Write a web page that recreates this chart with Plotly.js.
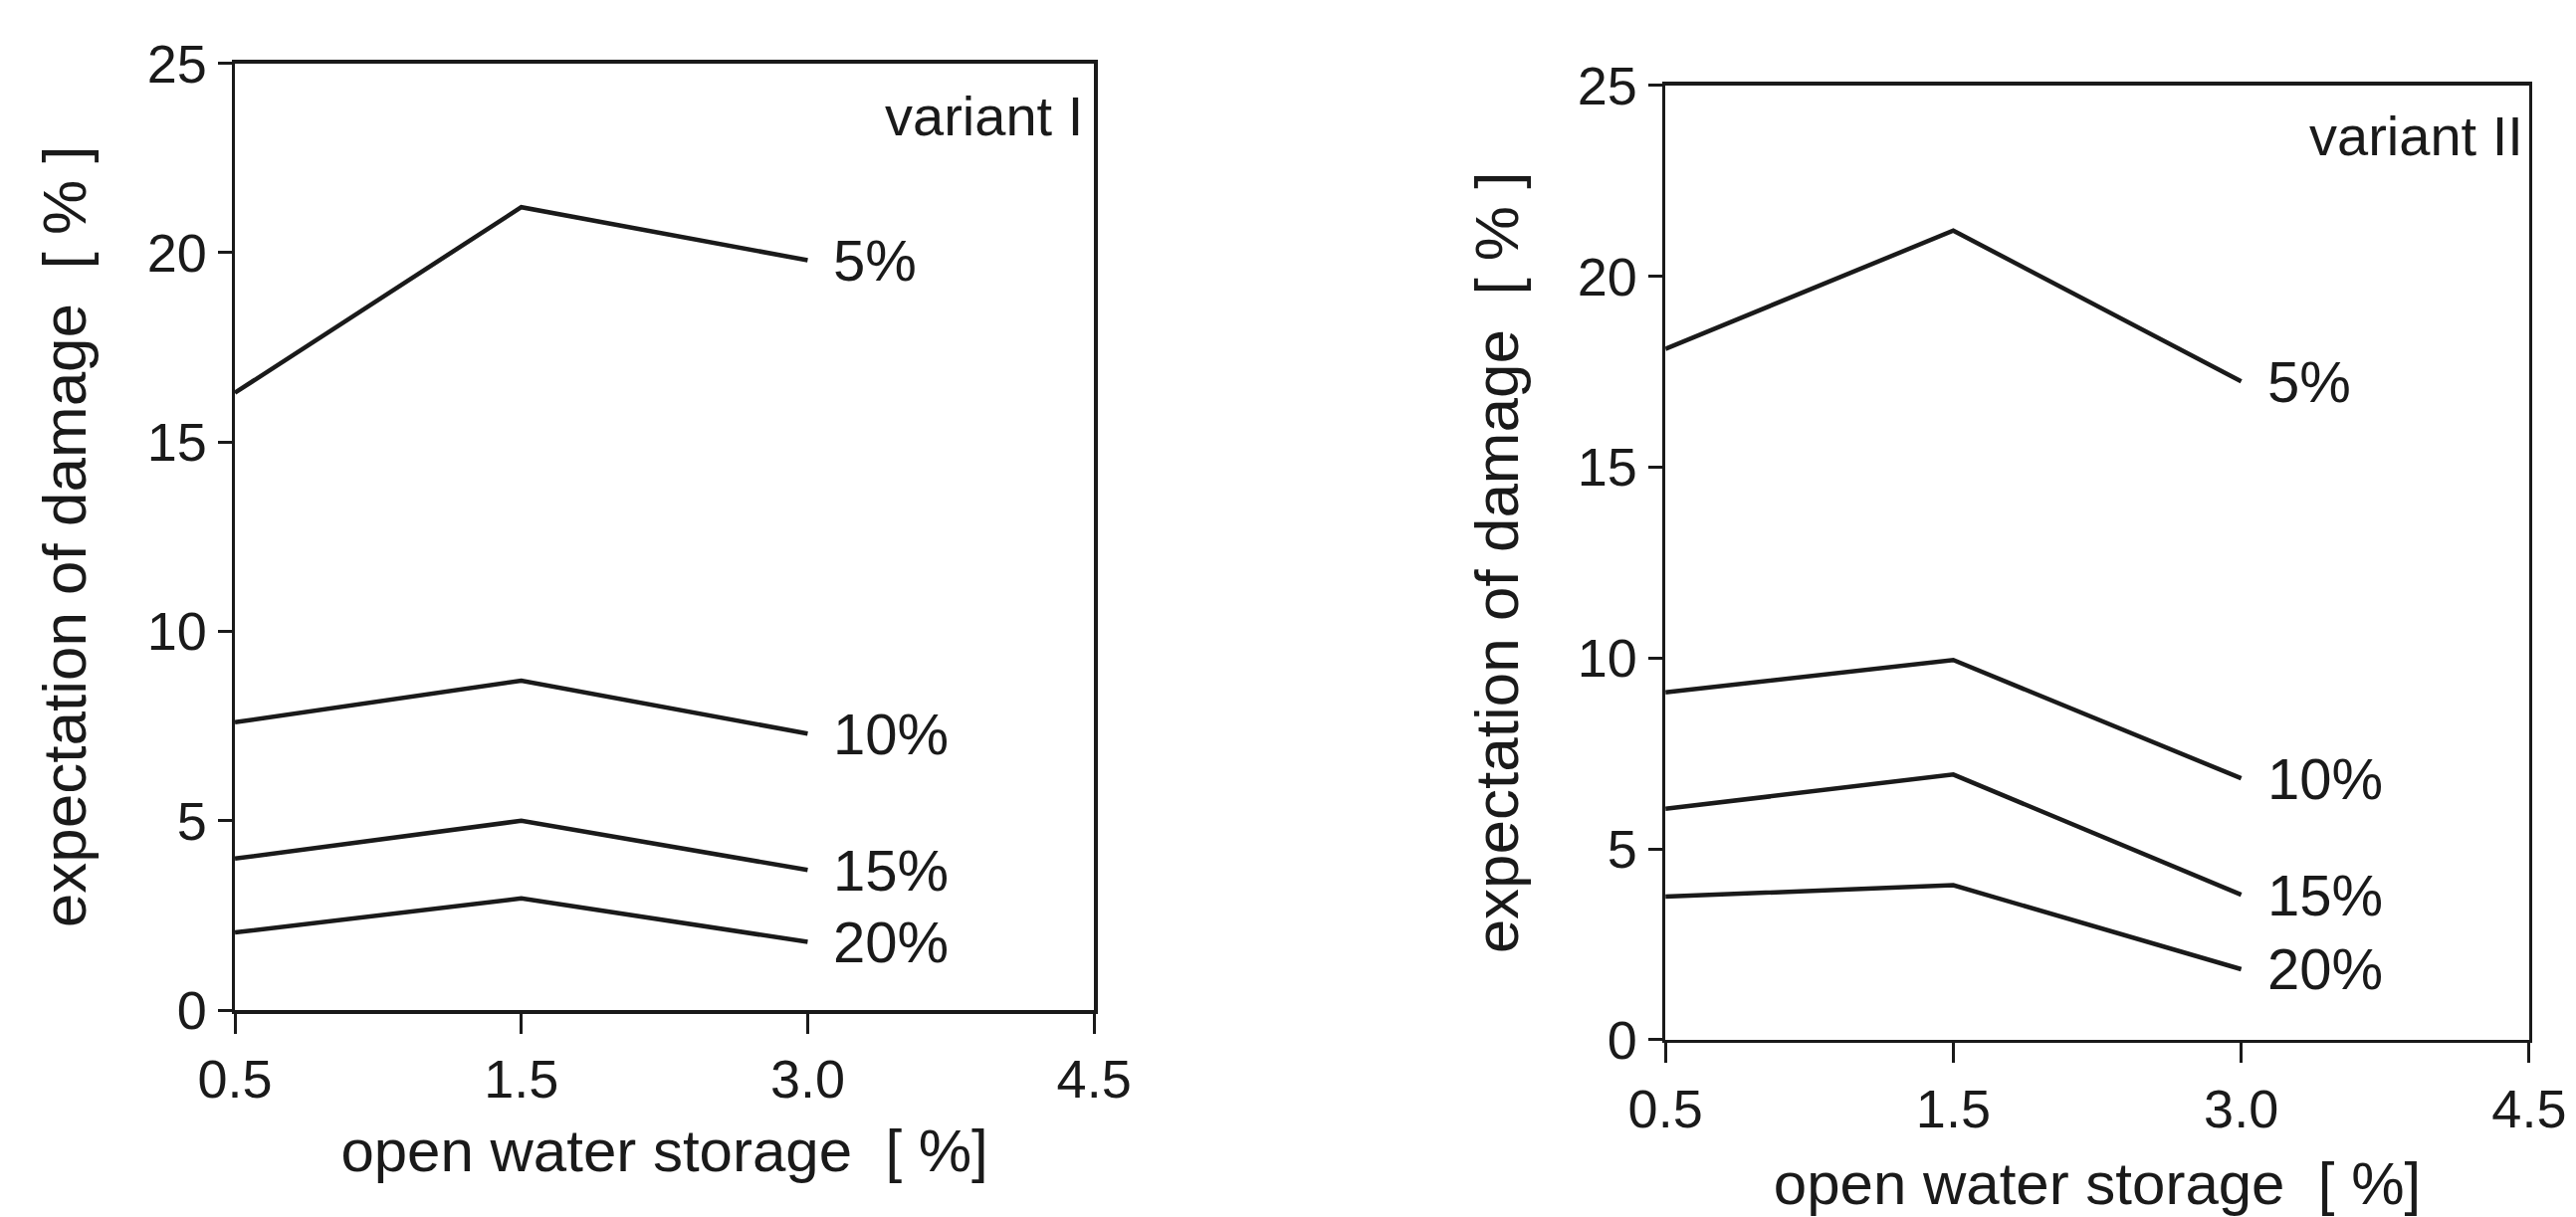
<!DOCTYPE html>
<html>
<head>
<meta charset="utf-8">
<script src="https://cdn.plot.ly/plotly-3.0.1.min.js"></script>
<style>html,body{margin:0;padding:0;background:#fff;}#chart{width:2588px;height:1223px;}</style>
</head>
<body>
<div id="chart"></div>
<script>
// categories on the x axis (open water storage, %)
const xCategories = ['0.5', '1.5', '3.0', '4.5'];
const xData = ['0.5', '1.5', '3.0'];
const seriesLabels = ['5%', '10%', '15%', '20%'];

// variant I – expectation of damage (%)
const variantI_5 = [16.3, 21.2, 19.8];
const variantI_10 = [7.6, 8.7, 7.3];
const variantI_15 = [4.0, 5.0, 3.7];
const variantI_20 = [2.05, 2.95, 1.8];

// variant II – expectation of damage (%)
const variantII_5 = [18.1, 21.2, 17.25];
const variantII_10 = [9.1, 9.95, 6.85];
const variantII_15 = [6.05, 6.95, 3.8];
const variantII_20 = [3.75, 4.05, 1.85];

const yTicks = [0, 5, 10, 15, 20, 25];

const FONT = 'Liberation Sans, Arial, Helvetica, sans-serif';
const INK = '#1a1a1a';

const panels = [
  {xa: 'x', ya: 'y', series: [variantI_5, variantI_10, variantI_15, variantI_20], name: 'variant I', nx: 0.99, ny: 0.944},
  {xa: 'x2', ya: 'y2', series: [variantII_5, variantII_10, variantII_15, variantII_20], name: 'variant II', nx: 0.995, ny: 0.947}
];

const traces = [];
const annotations = [];
panels.forEach(p => {
  p.series.forEach((vals, i) => {
    traces.push({
      type: 'scatter', mode: 'lines', x: xData, y: vals,
      xaxis: p.xa, yaxis: p.ya,
      line: {color: INK, width: 4.5}, showlegend: false, hoverinfo: 'skip'
    });
    const last = xData.length - 1;
    annotations.push({
      xref: p.xa, yref: p.ya, x: xCategories.indexOf(xData[last]), y: vals[last],
      text: seriesLabels[i], showarrow: false, xanchor: 'left', yanchor: 'middle',
      xshift: 24, font: {family: FONT, size: 58, color: INK}
    });
  });
  annotations.push({
    xref: p.xa + ' domain', yref: p.ya + ' domain', x: p.nx, y: p.ny,
    text: p.name, showarrow: false, xanchor: 'right', yanchor: 'middle',
    font: {family: FONT, size: 56, color: INK}
  });
});

function xAxis(domain, anchor, standoff) {
  return {
    domain: domain, anchor: anchor, type: 'category', categoryorder: 'array',
    categoryarray: xCategories, range: [0, 3],
    showline: true, mirror: true, linecolor: INK, linewidth: 3.5,
    ticks: 'outside', ticklen: 20, tickwidth: 3, tickcolor: INK,
    showgrid: false, zeroline: false,
    tickfont: {family: FONT, size: 54, color: INK},
    title: {text: 'open water storage  [ %]', font: {family: FONT, size: 60, color: INK}, standoff: standoff}
  };
}
function yAxis(domain, anchor, standoff) {
  return {
    domain: domain, anchor: anchor, range: [0, 25], tickvals: yTicks,
    showline: true, mirror: true, linecolor: INK, linewidth: 3.5,
    ticks: 'outside', ticklen: 14, tickwidth: 3, tickcolor: INK,
    showgrid: false, zeroline: false,
    tickfont: {family: FONT, size: 54, color: INK},
    title: {text: 'expectation of damage  [ % ]', font: {family: FONT, size: 62, color: INK}, standoff: standoff}
  };
}

const layout = {
  width: 2588, height: 1223,
  margin: {l: 0, r: 0, t: 0, b: 0},
  paper_bgcolor: '#ffffff', plot_bgcolor: '#ffffff',
  showlegend: false,
  xaxis: xAxis([0.0912, 0.4247], 'y', 22),
  yaxis: yAxis([0.170, 0.948], 'x', 42),
  xaxis2: xAxis([0.6465, 0.9818], 'y2', 46),
  yaxis2: yAxis([0.1456, 0.9297], 'x2', 40),
  annotations: annotations
};

Plotly.newPlot('chart', traces, layout, {staticPlot: true});
</script>
</body>
</html>
